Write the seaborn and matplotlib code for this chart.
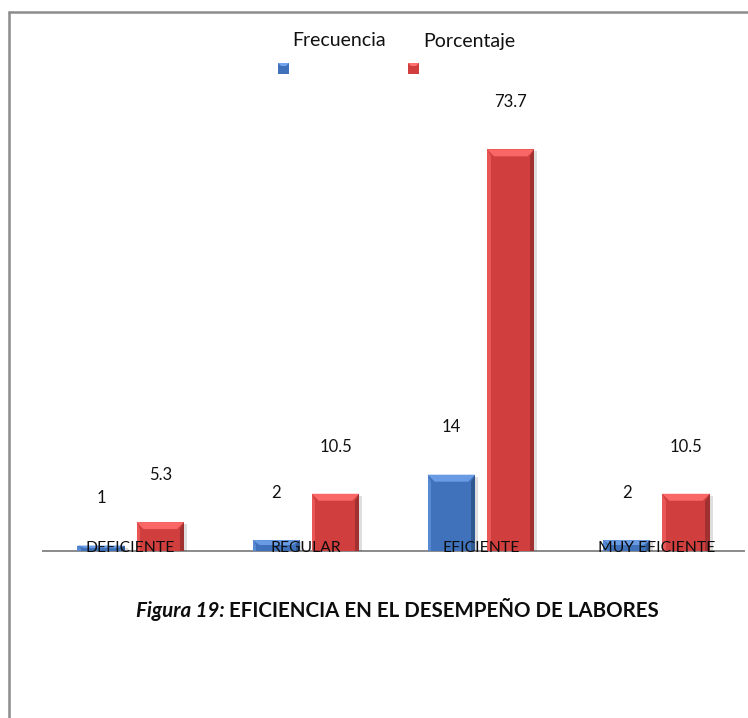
import matplotlib
matplotlib.use("Agg")
import matplotlib.pyplot as plt
from matplotlib.patches import Polygon, Rectangle
from matplotlib.lines import Line2D
import matplotlib.colors as mcolors
import seaborn as sns
import pandas as pd

# Data
categorias = ["DEFICIENTE", "REGULAR", "EFICIENTE", "MUY EFICIENTE"]
frecuencia = [1, 2, 14, 2]
porcentaje = [5.3, 10.5, 73.7, 10.5]
series = ["Frecuencia", "Porcentaje"]
colores = {"Frecuencia": "#3F72BA", "Porcentaje": "#D03E3E"}
titulo_num = "Figura 19:"
titulo_txt = "EFICIENCIA EN EL DESEMPEÑO DE LABORES"

df = pd.DataFrame({
    "categoria": categorias * 2,
    "serie": [series[0]] * len(categorias) + [series[1]] * len(categorias),
    "valor": frecuencia + porcentaje,
})

sns.set_theme(style="white")
plt.rcParams["font.family"] = ["Lato", "DejaVu Sans"]

W, H, DPI = 748, 718, 100
fig = plt.figure(figsize=(W / DPI, H / DPI), dpi=DPI)
ax = fig.add_axes([43 / W, 1 - 551 / H, (744 - 43) / W, (551 - 115) / H])

sns.barplot(data=df, x="categoria", y="valor", hue="serie", order=categorias,
            hue_order=series, palette=colores, width=0.676, gap=0.2,
            saturation=1, legend=False, ax=ax, linewidth=0)

ax.set_xlim(-0.5, 3.5)
ax.set_ylim(0, 80)
ax.set_xlabel("")
ax.set_ylabel("")
ax.set_xticks([])
ax.set_yticks([])
for s in ["top", "right", "left"]:
    ax.spines[s].set_visible(False)
ax.spines["bottom"].set_color("#8a8a8a")
ax.spines["bottom"].set_linewidth(1.4)
ax.spines["bottom"].set_zorder(1)

# pixel -> data conversion for bevel decorations
px_x = 4.0 / (744 - 43)
px_y = 80.0 / (551 - 115)

for p in list(ax.patches):
    x0, y0 = p.get_x(), p.get_y()
    w, h = p.get_width(), p.get_height()
    if h <= 0:
        continue
    base = mcolors.to_rgb(p.get_facecolor())
    light = tuple(min(1, c + 0.16) for c in base)
    dark = tuple(max(0, c * 0.72) for c in base)
    p.set_zorder(3)
    # drop shadow
    ax.add_patch(Rectangle((x0 + 3 * px_x, y0), w, h - 2 * px_y,
                           facecolor="#000000", alpha=0.13, zorder=2, lw=0))
    b = min(7 * px_y, h * 0.45)
    bx = min(7 * px_x, w * 0.2)
    # top bevel
    ax.add_patch(Polygon([(x0, y0 + h), (x0 + w, y0 + h),
                          (x0 + w - bx, y0 + h - b), (x0 + bx, y0 + h - b)],
                         closed=True, facecolor=light, lw=0, zorder=4))
    # right edge shade
    ax.add_patch(Polygon([(x0 + w, y0 + h), (x0 + w, y0),
                          (x0 + w - bx * 0.6, y0), (x0 + w - bx * 0.6, y0 + h - b)],
                         closed=True, facecolor=dark, lw=0, zorder=4, alpha=0.8))
    # left edge highlight
    ax.add_patch(Polygon([(x0, y0 + h), (x0, y0),
                          (x0 + bx * 0.5, y0), (x0 + bx * 0.5, y0 + h - b)],
                         closed=True, facecolor=light, lw=0, zorder=4, alpha=0.6))

# value labels above each bar
bars = [p for p in ax.patches[:8]]
vals = frecuencia + porcentaje
for p, v in zip(bars, vals):
    cx = p.get_x() + p.get_width() / 2
    ax.annotate(f"{v:g}", (cx, v), xytext=(0, 34), textcoords="offset points",
                ha="center", va="center", fontsize=12, color="#111111", zorder=6)

# category names sitting on the baseline
for i, c in enumerate(categorias):
    ax.text(i, 0.6, c, ha="center", va="center", fontsize=11.3,
            color="#0d0d0d", zorder=7)

# legend: names on top, swatches beneath
leg_txt = [(339, 41), (469, 41)]
leg_box = [(278, 63), (408, 63)]
for s, (tx, ty), (bx0, by0) in zip(series, leg_txt, leg_box):
    fig.text(tx / W, 1 - ty / H, s, ha="center", va="center", fontsize=14,
             color="#111111")
    col = mcolors.to_rgb(colores[s])
    fig.add_artist(Rectangle((bx0 / W, 1 - (by0 + 11) / H), 11 / W, 11 / H,
                             transform=fig.transFigure, facecolor=col, lw=0))
    lt = tuple(min(1, c + 0.2) for c in col)
    fig.add_artist(Polygon([(bx0 / W, 1 - by0 / H), ((bx0 + 11) / W, 1 - by0 / H),
                            ((bx0 + 8) / W, 1 - (by0 + 3) / H), ((bx0 + 3) / W, 1 - (by0 + 3) / H)],
                           closed=True, transform=fig.transFigure, facecolor=lt, lw=0))

# figure border (left and top edges)
fig.add_artist(Line2D([8.5 / W, 8.5 / W], [0, 1 - 11.5 / H], transform=fig.transFigure,
                      color="#8c8c8c", lw=1.8))
fig.add_artist(Line2D([8.5 / W, 1], [1 - 11.5 / H, 1 - 11.5 / H], transform=fig.transFigure,
                      color="#8c8c8c", lw=1.8))

# caption
fig.canvas.draw()
r = fig.canvas.get_renderer()
cy = 1 - 611 / H
t1 = fig.text(0, cy, titulo_num + " ", fontsize=14.8, fontweight="bold", fontstyle="italic",
              va="center", ha="left", color="#0d0d0d")
t2 = fig.text(0, cy, titulo_txt, fontsize=14.8, fontweight="bold", va="center", ha="left",
              color="#0d0d0d")
w1 = t1.get_window_extent(r).width
w2 = t2.get_window_extent(r).width
x_start = 397 - (w1 + w2) / 2
t1.set_x(x_start / W)
t2.set_x((x_start + w1) / W)

fig.savefig("out.png", dpi=DPI, facecolor="white")
